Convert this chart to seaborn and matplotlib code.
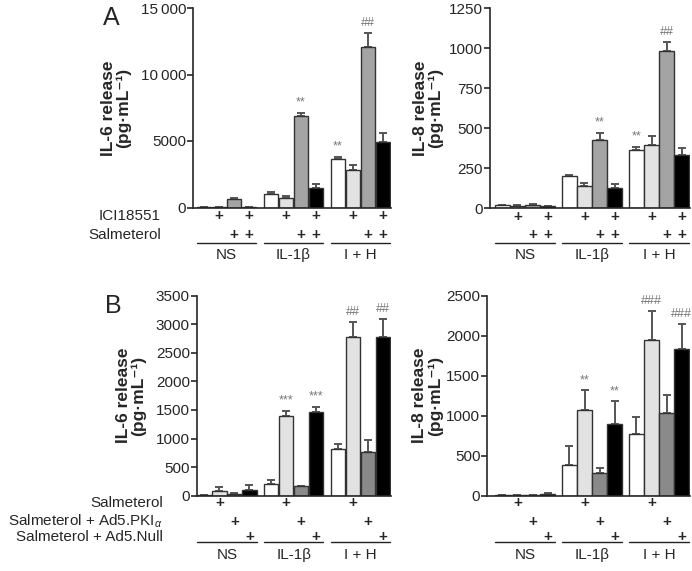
import numpy as np
import pandas as pd
import matplotlib
matplotlib.use("Agg")
import matplotlib.pyplot as plt
import matplotlib.transforms as mtransforms
import seaborn as sns

# ---- data (bars in order NS x4, IL-1b x4, I+H x4) ----
groups = ["NS", "IL-1β", "I + H"]

il6_a = [50, 20, 620, 20, 1050, 750, 6900, 1450, 3650, 2850, 12050, 4900]
il6_a_err = [20, 10, 120, 10, 150, 80, 230, 300, 150, 380, 1050, 700]
il8_a = [20, 17, 20, 12, 202, 140, 425, 127, 362, 394, 981, 331]
il8_a_err = [3, 2, 5, 2, 8, 16, 48, 25, 23, 56, 56, 44]

il6_b = [10, 87, 35, 105, 198, 1395, 163, 1465, 820, 2770, 760, 2783]
il6_b_err = [5, 58, 5, 75, 69, 93, 12, 93, 85, 275, 215, 310]
il8_b = [5, 5, 5, 25, 379, 1075, 283, 896, 767, 1942, 1029, 1833]
il8_b_err = [2, 2, 2, 5, 242, 242, 67, 283, 221, 362, 233, 317]

stars_a6 = [(6, "**"), (8, "**"), (10, "##")]
stars_a8 = [(6, "**"), (8, "**"), (10, "##")]
stars_b6 = [(5, "***"), (7, "***"), (9, "##"), (11, "##")]
stars_b8 = [(5, "**"), (7, "**"), (9, "###"), (11, "###")]

# "+" rows: which bar within each group gets a "+"
rows_a = [("ICI18551", [1, 3]), ("Salmeterol", [2, 3])]
rows_b = [("Salmeterol", [1]), ("Salmeterol + Ad5.PKI$_{\\alpha}$", [2]),
          ("Salmeterol + Ad5.Null", [3])]

colors_a = ["#ffffff", "#e2e2e2", "#a4a4a4", "#000000"]
colors_b = ["#ffffff", "#e2e2e2", "#8a8a8a", "#000000"]

sns.set_style("ticks")
plt.rcParams["font.family"] = ["Liberation Sans", "DejaVu Sans"]
plt.rcParams["mathtext.fontset"] = "custom"
plt.rcParams["mathtext.rm"] = "Liberation Sans"
plt.rcParams["mathtext.it"] = "Liberation Sans:italic"

W, H = 692, 571
fig = plt.figure(figsize=(W / 100, H / 100), dpi=100)

PITCH = 4.45  # group spacing in bar units


def px_rect(x0, y0, x1, y1):
    return [x0 / W, 1 - y1 / H, (x1 - x0) / W, (y1 - y0) / H]


def add_plus_rows(ax, rows, row_y, h):
    tr = ax.get_xaxis_transform()
    for which, ry in zip(rows, row_y):
        for g in range(3):
            for i in which:
                ax.text(g * PITCH + i, -ry / h, "+", transform=tr,
                        ha="center", va="center", fontsize=11,
                        fontweight="bold", clip_on=False)


def panel(rect, xlim, vals, errs, colors, ylim, yticks, yticklabels, ylabel,
          labx, stars, rows, row_y, line_y, lab_y, row_lab_x):
    ax = fig.add_axes(px_rect(*rect))
    pos = [g * PITCH + i for g in range(3) for i in range(4)]
    df = pd.DataFrame({"pos": pos, "value": vals,
                       "trt": [f"t{i}" for _ in range(3) for i in range(4)]})
    pal = {f"t{i}": c for i, c in enumerate(colors)}
    sns.barplot(data=df, x="pos", y="value", hue="trt", palette=pal,
                native_scale=True, dodge=False, width=0.96, errorbar=None,
                edgecolor="#333333", linewidth=1.0, legend=False, ax=ax)
    ax.errorbar(pos, vals, yerr=[np.zeros(len(errs)), errs], fmt="none",
                ecolor="#555555", elinewidth=1.4, capsize=3, capthick=1.4,
                zorder=1)
    for b in ax.patches:
        b.set_zorder(2)
    ax.set_xlim(*xlim)
    ax.set_ylim(*ylim)
    ax.set_yticks(yticks)
    ax.set_yticklabels(yticklabels, fontsize=11)
    ax.set_xticks([])
    ax.set_xlabel("")
    ax.set_ylabel(ylabel, fontsize=12.5, fontweight="bold", linespacing=1.0)
    ax.yaxis.set_label_coords(labx, 0.5)
    sns.despine(ax=ax)
    ax.spines["left"].set_linewidth(1.2)
    ax.spines["bottom"].set_linewidth(1.2)
    ax.tick_params(axis="y", length=4, width=1.2, pad=1)

    for idx, s in stars:
        ax.annotate(s, (pos[idx], vals[idx] + errs[idx]), xytext=(0, 3),
                    textcoords="offset points", ha="center", va="bottom",
                    fontsize=9, color="#777777")

    tr = ax.get_xaxis_transform()
    trf = mtransforms.blended_transform_factory(fig.transFigure, ax.transAxes)
    h = rect[3] - rect[1]
    for (name, _), ry in zip(rows, row_y):
        ax.text(row_lab_x / W, -ry / h, name, transform=trf, ha="right",
                va="center", fontsize=11)
    add_plus_rows(ax, [w for _, w in rows], row_y, h)
    for g, name in enumerate(groups):
        ax.plot([g * PITCH - 0.48, g * PITCH + 3.48], [-line_y / h] * 2,
                transform=tr, color="#222222", lw=1.0, clip_on=False)
        ax.text(g * PITCH + 1.5, -lab_y / h, name, transform=tr, ha="center",
                va="center", fontsize=11)
    return ax


ax1 = panel((193, 8, 391, 207.5), (-0.75, 12.45), il6_a, il6_a_err, colors_a,
            (0, 15000), [0, 5000, 10000, 15000],
            ["0", "5000", "10\u2009000", "15\u2009000"],
            "IL-6 release\n(pg·mL⁻¹)", -0.31, stars_a6, rows_a,
            [8.5, 27], 35, 47, 161)
ax2 = panel((490, 8.3, 690, 208.3), (-0.82, 12.45), il8_a, il8_a_err, colors_a,
            (0, 1250), [0, 250, 500, 750, 1000, 1250],
            ["0", "250", "500", "750", "1000", "1250"],
            "IL-8 release\n(pg·mL⁻¹)", -0.235, stars_a8, [],
            [], 35, 47, 0)
add_plus_rows(ax2, [w for _, w in rows_a], [8.5, 27], 200)

ax3 = panel((196.7, 295.7, 391, 495.7), (-0.52, 12.45), il6_b, il6_b_err,
            colors_b, (0, 3500), list(range(0, 3501, 500)),
            [str(v) for v in range(0, 3501, 500)],
            "IL-6 release\n(pg·mL⁻¹)", -0.26, stars_b6, rows_b,
            [7.5, 26, 41], 46, 59, 163)
ax4 = panel((487.3, 295.7, 690, 495.7), (-1.0, 12.45), il8_b, il8_b_err,
            colors_b, (0, 2500), list(range(0, 2501, 500)),
            [str(v) for v in range(0, 2501, 500)],
            "IL-8 release\n(pg·mL⁻¹)", -0.22, stars_b8, [],
            [], 46, 59, 0)
add_plus_rows(ax4, [w for _, w in rows_b], [7.5, 26, 41], 200)

fig.text(111 / W, 1 - 18 / H, "A", fontsize=18, ha="center", va="center")
fig.text(113 / W, 1 - 306 / H, "B", fontsize=18, ha="center", va="center")

fig.savefig("out.png", dpi=100)
